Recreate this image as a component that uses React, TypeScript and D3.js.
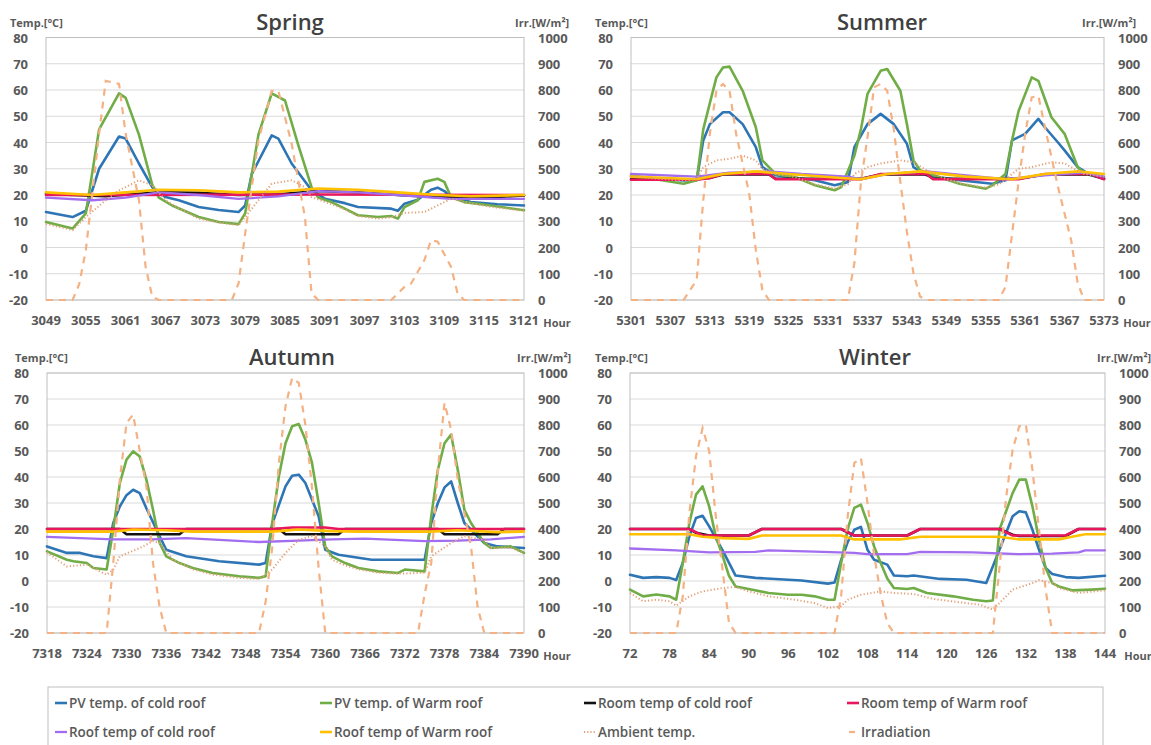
import React from "react";
import * as d3 from "d3";

type Pt = [number, number];

// ---- Spring (hours 3049-3121) ----
const springHours: number[] = [3049, 3055, 3061, 3067, 3073, 3079, 3085, 3091, 3097, 3103, 3109, 3115, 3121];
const springPvCold: Pt[] = [[3049,13.5],[3053,11.6],[3055,14],[3057,30],[3060,42.3],[3061,41.5],[3063,32],[3065,23],[3067,19.2],[3069,18],[3072,15.4],[3075,14.3],[3078,13.5],[3079,16],[3080,28],[3083,42.7],[3084,41.5],[3086,32],[3089,21.8],[3091,18.6],[3094,16.9],[3096,15.4],[3101,14.8],[3102,14],[3103,16.7],[3105,18.2],[3107,22],[3108,22.8],[3109,21.5],[3110,19.2],[3113,17.3],[3117,16.5],[3121,16]];
const springPvWarm: Pt[] = [[3049,9.7],[3053,7.2],[3055,13],[3057,45],[3060,58.7],[3061,57],[3063,43],[3065,24],[3066,19],[3068,16],[3072,11.6],[3075,9.7],[3078,8.9],[3079,13],[3081,43],[3083,58.7],[3085,56],[3087,39],[3089,23],[3090,19],[3092,17.3],[3094,14.8],[3096,12.3],[3099,11.6],[3101,12],[3102,11],[3103,15.4],[3105,18],[3106,25],[3108,26.2],[3109,25],[3110,19.2],[3112,17.3],[3116,16],[3121,14.2]];
const springRoomCold: Pt[] = [[3049,20.5],[3053,20],[3058,19.5],[3062,20.3],[3066,21],[3072,20.8],[3078,20],[3084,20.3],[3090,21.5],[3096,21],[3102,20],[3108,19.2],[3114,18.8],[3121,19.8]];
const springRoomWarm: Pt[] = [[3049,20],[3060,20],[3090,20.2],[3121,20]];
const springRoofCold: Pt[] = [[3049,19],[3056,18],[3061,19],[3066,21],[3072,20],[3078,18.5],[3084,19.5],[3090,21.5],[3096,21],[3102,20],[3110,18.5],[3121,18.5]];
const springRoofWarm: Pt[] = [[3049,21],[3056,20],[3061,21],[3066,22],[3072,21.8],[3078,21],[3084,21.3],[3090,22.5],[3096,22],[3102,21],[3108,20],[3113,19.5],[3121,20]];
const springAmbient: Pt[] = [[3049,9],[3053,6.6],[3055,11.6],[3058,18],[3060,21.8],[3063,25.6],[3065,23.7],[3067,18],[3069,15],[3072,11],[3075,9.5],[3078,8.5],[3079,11.6],[3081,18],[3083,24.3],[3086,25.6],[3088,23],[3089,19.2],[3092,16.5],[3094,14.5],[3096,12],[3099,11],[3101,11.5],[3103,13.2],[3106,13.5],[3108,16],[3110,18.6],[3112,17.3],[3116,15.5],[3121,14]];
const springIrr: Pt[] = [[3049,0],[3053,0],[3054,60],[3055,190],[3057,633],[3058,835],[3060,823],[3061,633],[3063,380],[3064,127],[3065,13],[3066,0],[3077,0],[3078,63],[3079,253],[3081,608],[3083,797],[3084,797],[3086,595],[3088,316],[3089,25],[3090,0],[3101,0],[3103,50],[3104,63],[3106,152],[3107,228],[3108,222],[3110,127],[3111,25],[3112,0],[3121,0]];

// ---- Summer (hours 5301-5373) ----
const summerHours: number[] = [5301, 5307, 5313, 5319, 5325, 5331, 5337, 5343, 5349, 5355, 5361, 5367, 5373];
const summerPvCold: Pt[] = [[5301,27],[5309,25.5],[5311,25.6],[5312,40.8],[5313,47],[5315,51.5],[5316,51.5],[5318,47],[5320,38.2],[5321,30.6],[5323,27.5],[5329,25.6],[5332,23.7],[5334,24.9],[5335,38.2],[5337,47],[5339,50.9],[5341,47],[5343,39.5],[5344,30.6],[5346,27.5],[5351,25.6],[5356,24.3],[5358,25.6],[5359,40.8],[5361,43.3],[5363,49],[5364,45.8],[5366,40],[5367,37],[5369,30.6],[5371,27.5],[5373,26.2]];
const summerPvWarm: Pt[] = [[5301,27.5],[5309,24.3],[5311,25.6],[5312,45],[5313,55],[5314,64.8],[5315,68.6],[5316,68.9],[5318,59.7],[5320,45.8],[5321,33.2],[5323,28],[5326,26.8],[5329,23.7],[5332,21.8],[5333,23],[5335,35],[5336,45],[5337,58.5],[5339,67.3],[5340,68],[5342,59.7],[5343,47],[5344,33.2],[5345,29.4],[5348,26.8],[5351,24.3],[5355,22.4],[5356,23.7],[5358,28],[5359,40.8],[5360,52],[5362,64.8],[5363,63.5],[5365,49.6],[5367,43.3],[5369,30.6],[5370,28],[5373,26.8]];
const summerRoomCold: Pt[] = [[5301,26],[5311,26],[5313,26.5],[5315,27.8],[5322,27.8],[5323,26.2],[5336,26.2],[5339,27.8],[5346,27.8],[5347,26.2],[5360,26.2],[5364,27.8],[5371,27.8],[5373,26.2]];
const summerRoomWarm: Pt[] = [[5301,25.8],[5311,25.8],[5313,26.5],[5315,28],[5322,28],[5323,26],[5336,26],[5339,28],[5346,28],[5347,26],[5360,26],[5364,28],[5371,28],[5373,26]];
const summerRoofCold: Pt[] = [[5301,28],[5311,27],[5316,28.5],[5322,29],[5327,28],[5334,27],[5336,26],[5340,28],[5346,29],[5354,27],[5358,26],[5364,27.5],[5370,28.5],[5373,27]];
const summerRoofWarm: Pt[] = [[5301,27],[5311,26],[5315,28],[5320,29],[5325,28],[5333,26.5],[5336,26],[5340,28],[5345,29],[5352,27],[5359,26],[5364,28],[5369,29],[5373,28]];
const summerAmbient: Pt[] = [[5301,27],[5309,25.5],[5311,26],[5312,30.6],[5314,33.2],[5316,33.8],[5318,35],[5320,33.2],[5321,30],[5323,28],[5326,26.8],[5329,24],[5332,22.5],[5334,24],[5335,28],[5337,30.6],[5339,32],[5342,33.2],[5344,32.5],[5346,29.4],[5348,27],[5351,24.5],[5355,22.8],[5357,24],[5359,28],[5360,30],[5362,30.6],[5365,32.5],[5367,32],[5368,30.6],[5370,28],[5373,27]];
const summerIrr: Pt[] = [[5301,0],[5309,0],[5311,76],[5312,380],[5313,633],[5314,797],[5315,823],[5316,797],[5317,633],[5319,405],[5320,190],[5321,38],[5322,0],[5334,0],[5335,140],[5336,450],[5337,620],[5338,810],[5339,823],[5340,797],[5341,650],[5342,450],[5343,260],[5344,101],[5345,13],[5346,0],[5357,0],[5358,50],[5359,250],[5360,450],[5361,633],[5362,772],[5363,778],[5364,660],[5366,430],[5368,228],[5369,63],[5370,0],[5373,0]];

// ---- Autumn (hours 7318-7390) ----
const autumnHours: number[] = [7318, 7324, 7330, 7336, 7342, 7348, 7354, 7360, 7366, 7372, 7378, 7384, 7390];
const autumnPvCold: Pt[] = [[7318,13.3],[7321,10.8],[7323,10.8],[7325,9.5],[7327,8.8],[7328,22.3],[7329,28.7],[7330,33],[7331,35.1],[7332,33.8],[7333,28],[7335,17.2],[7336,12],[7339,9.5],[7344,7.6],[7350,6.3],[7351,6.9],[7352,22],[7354,36.4],[7355,40.5],[7356,40.9],[7357,37.7],[7359,24.9],[7360,12],[7362,10.1],[7367,8.2],[7371,8.2],[7375,8.2],[7376,22.3],[7377,30],[7378,36],[7379,38.3],[7380,30],[7381,22.3],[7382,19.7],[7384,14.6],[7386,13.3],[7390,12.7]];
const autumnPvWarm: Pt[] = [[7318,11.4],[7321,8.2],[7322,7.6],[7324,6.9],[7325,5],[7327,4.4],[7328,19.7],[7329,37.7],[7330,46.7],[7331,49.9],[7332,47.9],[7333,39],[7334,27.4],[7335,14.6],[7336,9.5],[7338,6.9],[7340,5],[7343,3.1],[7347,1.8],[7350,1.2],[7351,1.8],[7352,22.3],[7353,40.3],[7354,53],[7355,59.5],[7356,60.4],[7357,54.4],[7358,45.4],[7359,30],[7360,13.3],[7361,9.5],[7363,6.9],[7365,5],[7368,3.7],[7371,3.1],[7372,4.4],[7375,3.7],[7376,24.9],[7377,42.8],[7378,53],[7379,56.3],[7380,42.8],[7381,27.4],[7382,22.3],[7384,14.6],[7385,12.7],[7388,13.3],[7390,10.8]];
const autumnRoomCold: Pt[] = [[7318,20],[7329,20],[7330,18],[7338,18],[7339,20],[7353,20],[7354,18],[7362,18],[7363,20],[7377,20],[7378,18],[7386,18],[7387,20],[7390,20]];
const autumnRoomWarm: Pt[] = [[7318,20],[7352,20],[7355,20.6],[7360,20.6],[7362,20],[7390,20]];
const autumnRoofCold: Pt[] = [[7318,17],[7328,16],[7334,16],[7339,16.5],[7344,15.8],[7350,15],[7356,15.5],[7361,16],[7366,16.3],[7375,15.3],[7380,15.5],[7385,16],[7390,17]];
const autumnRoofWarm: Pt[] = [[7318,19],[7328,19],[7331,19.8],[7336,19.5],[7340,19],[7352,19],[7356,19.8],[7361,19.2],[7365,19],[7376,19],[7380,19.5],[7386,18.8],[7390,19]];
const autumnAmbient: Pt[] = [[7318,11],[7321,5.6],[7324,6.3],[7327,2.4],[7328,4.4],[7329,9.5],[7332,12.7],[7334,15.3],[7335,14.6],[7337,8.2],[7340,4.5],[7343,2.5],[7347,1.2],[7350,0.8],[7352,4.4],[7354,10.8],[7356,15.9],[7358,17.2],[7360,13.3],[7361,8.2],[7363,6],[7365,4.5],[7368,3.2],[7371,2.8],[7375,3.2],[7376,9.5],[7379,14.6],[7381,17.2],[7384,15.9],[7385,12.7],[7388,12.8],[7390,10.8]];
const autumnIrr: Pt[] = [[7318,0],[7327,0],[7328,269],[7329,590],[7330,808],[7331,840],[7332,700],[7333,564],[7334,269],[7335,100],[7336,0],[7350,0],[7351,120],[7352,330],[7353,654],[7354,872],[7355,981],[7356,962],[7357,800],[7358,560],[7359,250],[7360,0],[7374,0],[7375,150],[7376,269],[7377,628],[7378,885],[7379,782],[7380,590],[7382,333],[7383,100],[7384,0],[7390,0]];

// ---- Winter (hours 72-144) ----
const winterHours: number[] = [72, 78, 84, 90, 96, 102, 108, 114, 120, 126, 132, 138, 144];
const winterPvCold: Pt[] = [[72,2.4],[74,1.2],[76,1.5],[78,1.2],[79,0.4],[80,6.9],[81,17.2],[82,24.2],[83,25.1],[84,21],[86,12],[88,2.1],[91,1.2],[98,0.2],[102,-1],[103,-0.6],[104,8],[105,15],[106,19.7],[107,20.8],[108,12],[109,8.2],[111,6.3],[112,2.1],[114,1.8],[115,2.1],[119,0.8],[123,0.5],[126,-0.8],[128,12],[130,24.9],[131,26.8],[132,26.4],[133,19.7],[134,12],[135,5],[136,2.7],[138,1.5],[140,1.2],[144,2]];
const winterPvWarm: Pt[] = [[72,-3.3],[74,-5.9],[76,-5.2],[78,-5.9],[79,-7.2],[80,6.9],[81,22.3],[82,33.2],[83,36.4],[84,28.7],[85,17.2],[86,10],[87,2],[88,-2.1],[90,-3.1],[93,-4.6],[96,-5.3],[98,-5.3],[100,-5.9],[102,-7.2],[103,-7.2],[104,6.9],[105,20],[106,28.1],[107,29.4],[108,22.3],[109,13.3],[110,6.9],[111,1],[112,-2.7],[114,-3.1],[115,-2.7],[117,-4.6],[121,-5.9],[124,-7.2],[126,-7.8],[127,-7.5],[128,19.7],[130,33.8],[131,39],[132,39],[133,28.7],[134,15.9],[135,5],[136,-0.8],[137,-2.1],[139,-3.6],[142,-3.3],[144,-3]];
const winterRoomCold: Pt[] = [[72,20],[81,20],[82,18.5],[84,17.5],[90,17.5],[92,20],[104,20],[106,17.5],[114,17.5],[116,20],[128,20],[130,17.8],[131,17.3],[138,17.3],[140,20],[144,20]];
const winterRoomWarm: Pt[] = [[72,20],[81,20],[83,17.5],[90,17.5],[92,20],[104,20],[106,17.5],[114,17.5],[116,20],[128,20],[130,17.5],[138,17.5],[140,20],[144,20]];
const winterRoofCold: Pt[] = [[72,12.5],[79,11.8],[84,11],[91,11.2],[93,11.8],[100,11.3],[106,10.8],[108,10.3],[114,10.3],[116,11.2],[124,11],[131,10.3],[136,10.5],[140,11],[141,11.8],[144,11.8]];
const winterRoofWarm: Pt[] = [[72,18],[81,18],[83,17],[86,16.5],[90,16.2],[92,17.5],[104,17.5],[106,16],[113,16],[116,17],[128,17],[131,16],[137,16],[139,17],[141,18],[144,18]];
const winterAmbient: Pt[] = [[72,-4.6],[74,-7.8],[76,-7.2],[78,-7.8],[79,-9.5],[81,-5.9],[83,-4],[86,-2.7],[88,-2.3],[90,-4],[93,-5.9],[97,-7.2],[100,-8.5],[102,-10.4],[104,-9.7],[105,-7.2],[107,-5.3],[110,-4],[112,-4.6],[115,-5],[118,-6.9],[122,-8.2],[125,-9.1],[127,-11],[128,-8.5],[130,-3.3],[133,-0.8],[134,0.3],[136,-0.8],[137,-2.7],[140,-4.6],[144,-3.6]];
const winterIrr: Pt[] = [[72,0],[79,0],[80,141],[81,462],[82,679],[83,788],[84,700],[85,450],[86,250],[87,40],[88,0],[103,0],[104,141],[105,449],[106,654],[107,673],[108,500],[109,300],[110,150],[111,38],[112,0],[127,0],[128,250],[129,520],[130,705],[131,795],[132,801],[133,628],[134,397],[135,167],[136,0],[144,0]];

const tempTicks = [-20, -10, 0, 10, 20, 30, 40, 50, 60, 70, 80];
const irrTicks = [0, 100, 200, 300, 400, 500, 600, 700, 800, 900, 1000];

const legendNames = [
  "PV temp. of cold roof", "PV temp. of Warm roof", "Room temp of cold roof", "Room temp of Warm roof",
  "Roof temp of cold roof", "Roof temp of Warm roof", "Ambient temp.", "Irradiation",
];

const styles = [
  { color: "#2e75b6", width: 2.6, dash: "" },
  { color: "#70ad47", width: 2.6, dash: "" },
  { color: "#111111", width: 2.6, dash: "" },
  { color: "#e8175d", width: 2.6, dash: "" },
  { color: "#a36df0", width: 2.3, dash: "" },
  { color: "#ffc000", width: 2.6, dash: "" },
  { color: "#e3a078", width: 2, dash: "1.2,2.2" },
  { color: "#f4b183", width: 2.2, dash: "7,6" },
];

const font = "'Open Sans', 'DejaVu Sans', sans-serif";
const grey = "#595959";

function Panel({ title, hours, series, irr, left, right, top, bottom, titleX, tempLabelX, irrLabelX }) {
  const x = d3.scaleLinear().domain([hours[0], hours[hours.length - 1]]).range([left, right]);
  const y = d3.scaleLinear().domain([-20, 80]).range([bottom, top]);
  const yIrr = d3.scaleLinear().domain([0, 1000]).range([bottom, top]);
  const line = d3.line<Pt>().x((d) => x(d[0])).y((d) => y(d[1]));
  const lineIrr = d3.line<Pt>().x((d) => x(d[0])).y((d) => yIrr(d[1]));

  return (
    <g fontFamily={font} fontWeight={700} fill={grey}>
      <text x={titleX} y={top - 8} textAnchor="middle" fontSize={22} fontWeight={600} fill="#404040">{title}</text>
      <text x={tempLabelX} y={top - 11} fontSize={11}>Temp.[°C]</text>
      <text x={irrLabelX} y={top - 11} fontSize={11}>Irr.[W/m²]</text>

      {/* grid */}
      {tempTicks.map((t) => (
        <line key={t} x1={left} x2={right} y1={y(t)} y2={y(t)} stroke="#d9d9d9" strokeWidth={1} />
      ))}
      <rect x={left} y={top} width={right - left} height={bottom - top} fill="none" stroke="#bfbfbf" strokeWidth={1} />

      {/* left axis */}
      {tempTicks.map((t) => (
        <text key={t} x={left - 18} y={y(t) + 5} textAnchor="end" fontSize={13}>{t}</text>
      ))}
      {/* right axis */}
      {irrTicks.map((t) => (
        <text key={t} x={right + 14} y={yIrr(t) + 5} fontSize={13}>{t}</text>
      ))}
      {/* x axis */}
      {hours.map((h) => (
        <text key={h} x={x(h)} y={bottom + 25} textAnchor="middle" fontSize={13}>{h}</text>
      ))}
      <text x={right + 33} y={bottom + 27} textAnchor="middle" fontSize={11}>Hour</text>

      {/* series */}
      {series.map((s, i) => (
        <path key={i} d={line(s)} fill="none" stroke={styles[i].color} strokeWidth={styles[i].width}
          strokeDasharray={styles[i].dash} strokeLinejoin="round" strokeLinecap={styles[i].dash ? "butt" : "round"} />
      ))}
      <path d={lineIrr(irr)} fill="none" stroke={styles[7].color} strokeWidth={styles[7].width} strokeDasharray={styles[7].dash} />
    </g>
  );
}

export default function App() {
  const legendCols = [55, 320, 584, 847];
  const legendRows = [703, 732];
  return (
    <svg width={1151} height={745} style={{ position: "absolute", left: 0, top: 0, background: "#fff" }}>
      <Panel title="Spring" hours={springHours}
        series={[springPvCold, springPvWarm, springRoomCold, springRoomWarm, springRoofCold, springRoofWarm, springAmbient]}
        irr={springIrr} left={46} right={524} top={37.5} bottom={300} titleX={290} tempLabelX={10} irrLabelX={515} />
      <Panel title="Summer" hours={summerHours}
        series={[summerPvCold, summerPvWarm, summerRoomCold, summerRoomWarm, summerRoofCold, summerRoofWarm, summerAmbient]}
        irr={summerIrr} left={631} right={1104} top={37.5} bottom={300} titleX={882} tempLabelX={595} irrLabelX={1082} />
      <Panel title="Autumn" hours={autumnHours}
        series={[autumnPvCold, autumnPvWarm, autumnRoomCold, autumnRoomWarm, autumnRoofCold, autumnRoofWarm, autumnAmbient]}
        irr={autumnIrr} left={47} right={524} top={373} bottom={633} titleX={292} tempLabelX={15} irrLabelX={517} />
      <Panel title="Winter" hours={winterHours}
        series={[winterPvCold, winterPvWarm, winterRoomCold, winterRoomWarm, winterRoofCold, winterRoofWarm, winterAmbient]}
        irr={winterIrr} left={630} right={1105} top={373} bottom={633} titleX={875} tempLabelX={595} irrLabelX={1097} />

      {/* legend */}
      <rect x={48} y={687} width={1055} height={70} fill="#fff" stroke="#bfbfbf" strokeWidth={1} />
      {legendNames.map((name, i) => {
        const lx = legendCols[i % 4];
        const ly = legendRows[Math.floor(i / 4)];
        const st = styles[i];
        return (
          <g key={name}>
            {i < 7 ? (
              <line x1={lx} x2={lx + 12} y1={ly} y2={ly} stroke={st.color} strokeWidth={st.width}
                strokeDasharray={i === 6 ? "1.2,2" : ""} />
            ) : (
              <line x1={lx + 2} x2={lx + 8} y1={ly} y2={ly} stroke={st.color} strokeWidth={st.width} />
            )}
            <text x={lx + 14} y={ly + 5} fontFamily={font} fontWeight={600} fontSize={13.5} fill={grey}>{name}</text>
          </g>
        );
      })}
    </svg>
  );
}
